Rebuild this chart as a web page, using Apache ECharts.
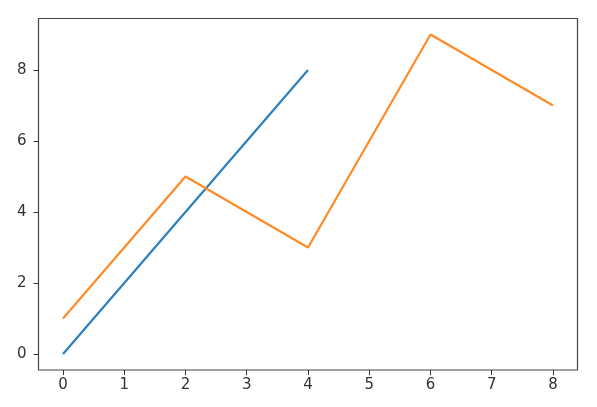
<!DOCTYPE html>
<html>
<head>
<meta charset="utf-8">
<script src="https://cdn.jsdelivr.net/npm/echarts@6/dist/echarts.min.js"></script>
<style>html,body{margin:0;padding:0;background:#fff;}#c{width:597px;height:407px;}</style>
</head>
<body>
<div id="c"></div>
<script>
const xBlue = [0, 1, 2, 3, 4];
const yBlue = [0, 2, 4, 6, 8];
const xOrange = [0, 2, 4, 6, 8];
const yOrange = [1, 5, 3, 9, 7];
const xTicks = [0, 1, 2, 3, 4, 5, 6, 7, 8];
const yTicks = [0, 2, 4, 6, 8];

const xMin = -0.4, xMax = 8.4, yMin = -0.45, yMax = 9.45;
const gL = 38.5, gT = 18.5, gW = 539, gH = 351.5;
const ux = gW / (xMax - xMin), uy = gH / (yMax - yMin);
const tickX0 = gL + (xTicks[0] - xMin) * ux;
const tickW = (xTicks[xTicks.length - 1] - xTicks[0]) * ux;
const tickYTop = gT + (yMax - yTicks[yTicks.length - 1]) * uy;
const tickH = (yTicks[yTicks.length - 1] - yTicks[0]) * uy;

const chart = echarts.init(document.getElementById('c'), null, {renderer: 'canvas'});
const tickStyle = {show: true, length: 5, lineStyle: {color: '#333', width: 1}};
const labelStyle = {color: '#333', fontSize: 15, fontFamily: 'DejaVu Sans'};
chart.setOption({
  animation: false,
  grid: [
    {left: gL, top: gT, width: gW, height: gH, show: true, borderColor: '#444', borderWidth: 1.2, backgroundColor: 'transparent', containLabel: false},
    {left: tickX0, top: gT, width: tickW, height: gH, containLabel: false},
    {left: gL, top: tickYTop, width: gW, height: tickH, containLabel: false}
  ],
  xAxis: [
    {gridIndex: 0, type: 'value', min: xMin, max: xMax, show: false},
    {gridIndex: 1, type: 'value', min: xTicks[0], max: xTicks[xTicks.length - 1], interval: 1,
     axisLine: {show: false}, axisTick: tickStyle, axisLabel: Object.assign({margin: 8}, labelStyle), splitLine: {show: false}},
    {gridIndex: 2, type: 'value', min: 0, max: 1, show: false}
  ],
  yAxis: [
    {gridIndex: 0, type: 'value', min: yMin, max: yMax, show: false},
    {gridIndex: 1, type: 'value', min: 0, max: 1, show: false},
    {gridIndex: 2, type: 'value', min: yTicks[0], max: yTicks[yTicks.length - 1], interval: 2,
     axisLine: {show: false}, axisTick: tickStyle, axisLabel: Object.assign({margin: 12}, labelStyle), splitLine: {show: false}}
  ],
  series: [
    {type: 'line', xAxisIndex: 0, yAxisIndex: 0, data: xBlue.map((x, i) => [x, yBlue[i]]),
     showSymbol: false, symbol: 'none', lineStyle: {color: '#2b80c0', width: 2.2}, itemStyle: {color: '#2b80c0'}},
    {type: 'line', xAxisIndex: 0, yAxisIndex: 0, data: xOrange.map((x, i) => [x, yOrange[i]]),
     showSymbol: false, symbol: 'none', lineStyle: {color: '#ff8a26', width: 2.2}, itemStyle: {color: '#ff8a26'}}
  ]
});
</script>
</body>
</html>
